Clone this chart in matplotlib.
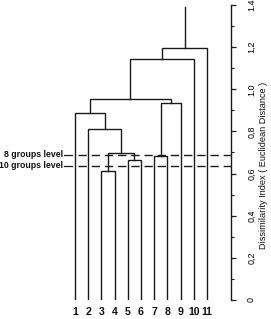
import matplotlib
matplotlib.use("Agg")
import matplotlib.pyplot as plt
from matplotlib.ticker import FixedLocator, MultipleLocator

# ---- data ----
leaf_labels = ["1", "2", "3", "4", "5", "6", "7", "8", "9", "10", "11"]
# merges: (child_a, child_b, height); leaves are 1..11, new clusters numbered 12, 13, ...
merge_a = [3, 5, 7, 12, 2, 1, 14, 17, 19, 20]
merge_b = [4, 6, 8, 13, 15, 16, 9, 18, 10, 11]
merge_h = [0.612, 0.663, 0.685, 0.70, 0.81, 0.889, 0.933, 0.952, 1.145, 1.197]
root_top = 1.39
level_names = ["8 groups level", "10 groups level"]
level_values = [0.69, 0.636]
tick_values = [0, 0.2, 0.4, 0.6, 0.8, 1.0, 1.2, 1.4]
tick_labels = ["0", "0,2", "0,4", "0,6", "0,8", "1.0", "1,2", "1.4"]
ylabel = "Dissimilarity Index ( Euclidean Distance )"

plt.rcParams['font.family'] = ['Liberation Sans', 'DejaVu Sans']

W, H = 271, 319
fig = plt.figure(figsize=(W / 100, H / 100), dpi=100)
ax_left, ax_right, ax_bot, ax_top = 0, 231, 300, 5
ax = fig.add_axes([ax_left / W, 1 - ax_bot / H, (ax_right - ax_left) / W, (ax_bot - ax_top) / H])

px_per_leaf = 13.2
x0 = 1 - 75 / px_per_leaf
x1 = 1 + (ax_right - 75) / px_per_leaf
ax.set_xlim(x0, x1)
ax.set_ylim(0, 1.4)

lc = '#1a1a1a'
lw = 1.0
pos = {i + 1: (float(i + 1), 0.0) for i in range(len(leaf_labels))}
nid = len(leaf_labels) + 1
for a, b, h in zip(merge_a, merge_b, merge_h):
    xa, ya = pos[a]
    xb, yb = pos[b]
    ax.plot([xa, xa, xb, xb], [ya, h, h, yb], color=lc, lw=lw, solid_joinstyle='miter')
    pos[nid] = ((xa + xb) / 2, h)
    nid += 1
xr, yr = pos[nid - 1]
ax.plot([xr, xr], [yr, root_top], color=lc, lw=lw)

# group level lines
x_lbl_end = 1 - (75 - 64) / px_per_leaf
x_solid_end = 1 - (75 - 72) / px_per_leaf
x_dash_start = 1 - (75 - 78) / px_per_leaf
for name, v in zip(level_names, level_values):
    ax.plot([x_lbl_end, x_solid_end], [v, v], color=lc, lw=0.9)
    ax.plot([x_dash_start, x1], [v, v], color=lc, lw=1.0, dashes=(6, 3.5))
    ax.text(x_lbl_end - 0.05, v, name, ha='right', va='center', fontsize=6.3,
            fontweight='bold', color='#111')

# leaf labels
for i, lab in enumerate(leaf_labels):
    ax.text(i + 1, -0.057, lab, ha='center', va='center', fontsize=7.6,
            fontweight='bold', color='#111', clip_on=False)

# axis styling: only right spine
for s in ['left', 'top', 'bottom']:
    ax.spines[s].set_visible(False)
ax.spines['right'].set_linewidth(1.0)
ax.spines['right'].set_color(lc)
ax.set_xticks([])
ax.yaxis.tick_right()
ax.yaxis.set_major_locator(FixedLocator(tick_values))
ax.set_yticklabels(tick_labels, rotation=90, va='center', fontsize=6.4)
ax.yaxis.set_minor_locator(MultipleLocator(0.1))
ax.tick_params(axis='y', which='major', direction='out', length=3.5, width=0.9,
               pad=8, color=lc)
ax.tick_params(axis='y', which='minor', direction='out', length=2, width=0.8, color=lc)

fig.text(263 / W, 1 - 165 / H, ylabel, rotation=90, ha='center', va='center', fontsize=6.6,
         color='#111')

fig.savefig('out.png', dpi=100)
